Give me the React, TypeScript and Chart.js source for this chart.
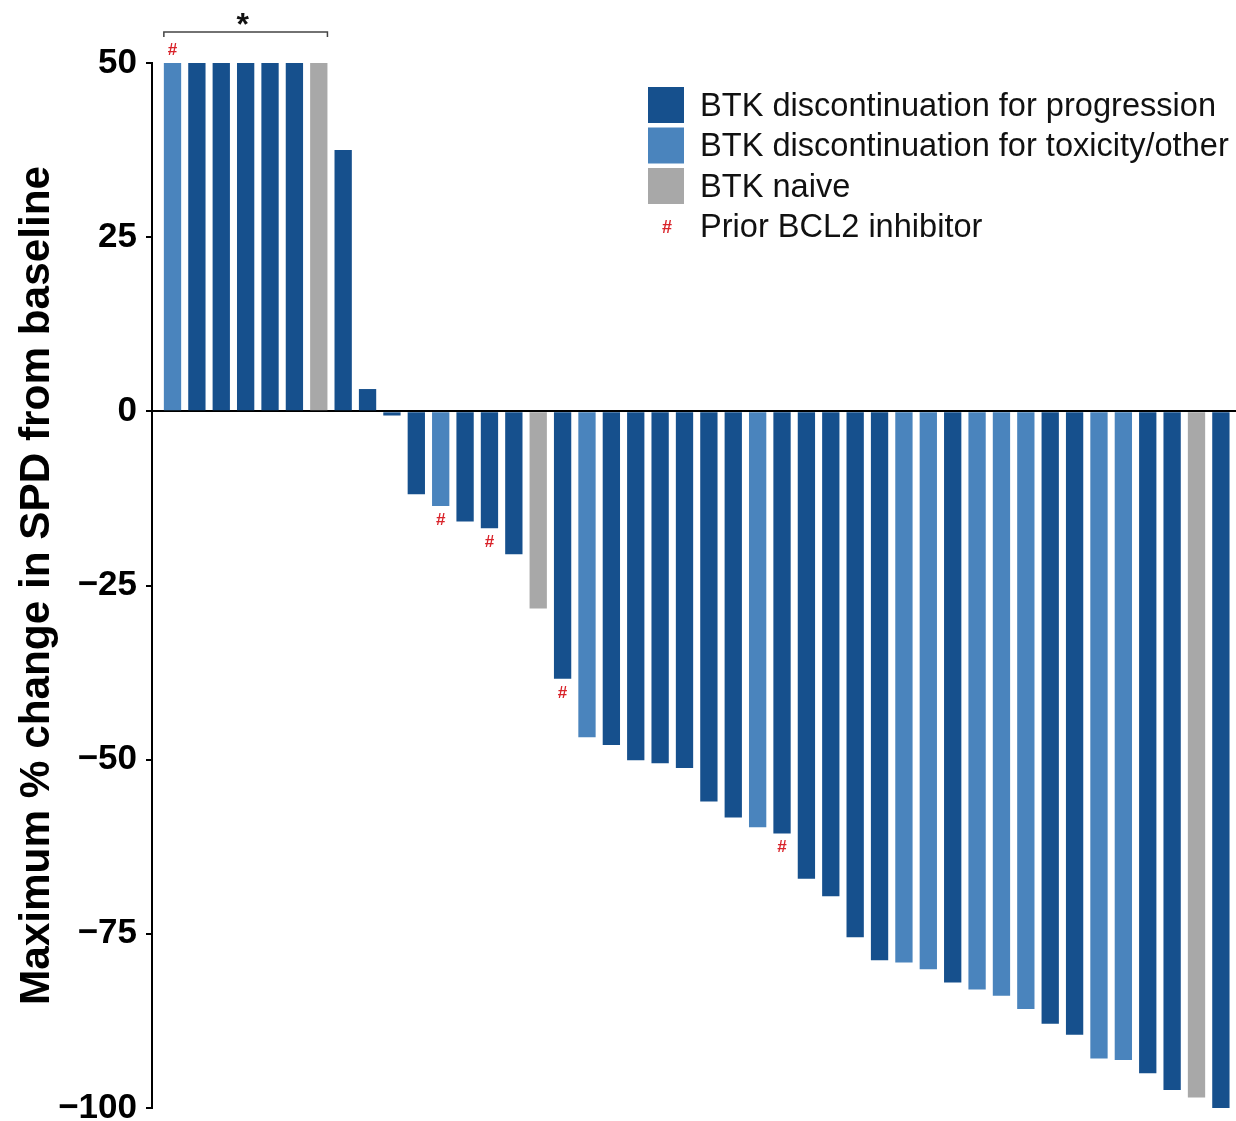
import React, { useEffect, useRef } from "react";
import { Chart, registerables } from "chart.js";

Chart.register(...registerables);

const FONT = '"Liberation Sans", Arial, Helvetica, sans-serif';

// Patients, ordered by best response (waterfall order)
const patients = [
  1, 2, 3, 4, 5, 6, 7, 8, 9, 10, 11, 12, 13, 14, 15, 16, 17, 18, 19, 20, 21, 22,
  23, 24, 25, 26, 27, 28, 29, 30, 31, 32, 33, 34, 35, 36, 37, 38, 39, 40, 41, 42, 43, 44,
];

// Maximum % change in SPD from baseline (values above +50 are capped at 50)
const spdChange = [
  50, 50, 50, 50, 50, 50, 50, 37.5, 3.2, -0.6, -11.9, -13.6, -15.8, -16.8, -20.5,
  -28.3, -38.4, -46.8, -47.9, -50.1, -50.5, -51.2, -56, -58.3, -59.7, -60.6, -67.1,
  -69.6, -75.5, -78.8, -79.1, -80.1, -82, -83, -83.9, -85.8, -87.9, -89.5, -92.9,
  -93.1, -95, -97.4, -98.5, -100,
];

// Cohort per patient: P = BTK discontinuation for progression,
// T = BTK discontinuation for toxicity/other, N = BTK naive
const cohort = [
  "T", "P", "P", "P", "P", "P", "N", "P", "P", "P", "P", "T", "P", "P", "P", "N",
  "P", "T", "P", "P", "P", "P", "P", "P", "T", "P", "P", "P", "P", "P", "T", "T",
  "P", "T", "T", "T", "P", "P", "T", "T", "P", "P", "N", "P",
];

const cohortKeys = ["P", "T", "N"];
const cohortLabels = [
  "BTK discontinuation for progression",
  "BTK discontinuation for toxicity/other",
  "BTK naive",
];
const cohortColors = ["#16508d", "#4a84bd", "#a8a8a8"];

// Patients previously treated with a BCL2 inhibitor
const priorBcl2 = [1, 12, 14, 17, 26];
const priorBcl2Label = "Prior BCL2 inhibitor";

// Patients grouped by the bracket (progression > 50%)
const bracketPatients = [1, 7];
const bracketLabel = "*";

const yTicks = [50, 25, 0, -25, -50, -75, -100];
const yTitle = "Maximum % change in SPD from baseline";

const MARK_RED = "#d9242b";

const overlayPlugin = {
  id: "waterfallOverlay",
  afterDatasetsDraw(chart: any) {
    const { ctx, chartArea } = chart;
    const bars = chart.getDatasetMeta(0).data as any[];
    ctx.save();

    // "#" markers beyond the end of each flagged bar
    ctx.fillStyle = MARK_RED;
    ctx.font = `bold 17px ${FONT}`;
    ctx.textAlign = "center";
    ctx.textBaseline = "middle";
    priorBcl2.forEach((p) => {
      const i = patients.indexOf(p);
      const bar = bars[i];
      const y = spdChange[i] >= 0 ? bar.y - 13 : bar.y + 14;
      ctx.fillText("#", bar.x, y);
    });

    // Bracket with asterisk over the capped group
    const first = bars[patients.indexOf(bracketPatients[0])];
    const last = bars[patients.indexOf(bracketPatients[1])];
    const x0 = first.x - first.width / 2;
    const x1 = last.x + last.width / 2;
    const yb = chartArea.top - 31;
    ctx.strokeStyle = "#444";
    ctx.lineWidth = 1.5;
    ctx.beginPath();
    ctx.moveTo(x0, yb + 5);
    ctx.lineTo(x0, yb);
    ctx.lineTo(x1, yb);
    ctx.lineTo(x1, yb + 5);
    ctx.stroke();
    ctx.fillStyle = "#111";
    ctx.font = `bold 32px ${FONT}`;
    ctx.textBaseline = "alphabetic";
    ctx.fillText(bracketLabel, (x0 + x1) / 2 - 3, yb + 3);

    // Legend
    const lx = 648;
    const ly = 87;
    const box = 36;
    const pitch = 40.5;
    const tx = 700;
    ctx.textAlign = "left";
    ctx.textBaseline = "middle";
    cohortLabels.forEach((label, k) => {
      const top = ly + k * pitch;
      ctx.fillStyle = cohortColors[k];
      ctx.fillRect(lx, top, box, box);
      ctx.fillStyle = "#111";
      ctx.font = `32.6px ${FONT}`;
      ctx.fillText(label, tx, top + box / 2 + 2);
    });
    const markY = ly + 3 * pitch + box / 2 + 2;
    ctx.fillStyle = MARK_RED;
    ctx.font = `bold 18px ${FONT}`;
    ctx.textAlign = "center";
    ctx.fillText("#", lx + box / 2 + 1, markY);
    ctx.fillStyle = "#111";
    ctx.font = `32.6px ${FONT}`;
    ctx.textAlign = "left";
    ctx.fillText(priorBcl2Label, tx, markY);

    ctx.restore();
  },
};

export default function App() {
  const canvasRef = useRef<HTMLCanvasElement | null>(null);

  useEffect(() => {
    const canvas = canvasRef.current;
    if (!canvas) return;
    const colors = cohort.map((c) => cohortColors[cohortKeys.indexOf(c)]);
    const chart = new Chart(canvas, {
      type: "bar",
      data: {
        datasets: [
          {
            data: spdChange.map((v, i) => ({ x: i, y: v })),
            backgroundColor: colors,
            borderWidth: 0,
            categoryPercentage: 1,
            barPercentage: 0.71,
          },
        ],
      },
      options: {
        responsive: false,
        animation: false,
        events: [],
        layout: { padding: { top: 63, bottom: 13, left: 0, right: 0 } },
        plugins: {
          legend: { display: false },
          tooltip: { enabled: false },
        },
        scales: {
          x: {
            type: "linear",
            display: false,
            offset: false,
            min: -0.841,
            max: 43.62,
          },
          y: {
            min: -100,
            max: 50,
            afterBuildTicks: (scale: any) => {
              scale.ticks = yTicks.map((v) => ({ value: v }));
            },
            afterFit: (scale: any) => {
              scale.width = 152;
            },
            border: { display: true, color: "#000", width: 2 },
            grid: {
              color: (c: any) => (c.tick && c.tick.value === 0 ? "#000" : "rgba(0,0,0,0)"),
              lineWidth: 2,
              tickColor: "#000",
              tickLength: 6,
            },
            ticks: {
              color: "#000",
              padding: 9,
              font: { family: FONT, size: 35, weight: "bold", lineHeight: 0.2 },
              callback: (v: any) => (v < 0 ? "\u2212" + Math.abs(v) : String(v)),
            },
            title: {
              display: true,
              text: yTitle,
              color: "#000",
              font: { family: FONT, size: 42.3, weight: "bold" },
              padding: { top: 12, bottom: 0 },
            },
          },
        },
      },
      plugins: [overlayPlugin],
    });
    return () => chart.destroy();
  }, []);

  return (
    <div style={{ position: "absolute", left: 0, top: 0, width: 1236, height: 1121, background: "#fff" }}>
      <canvas ref={canvasRef} width={1236} height={1121} style={{ display: "block" }} />
    </div>
  );
}
